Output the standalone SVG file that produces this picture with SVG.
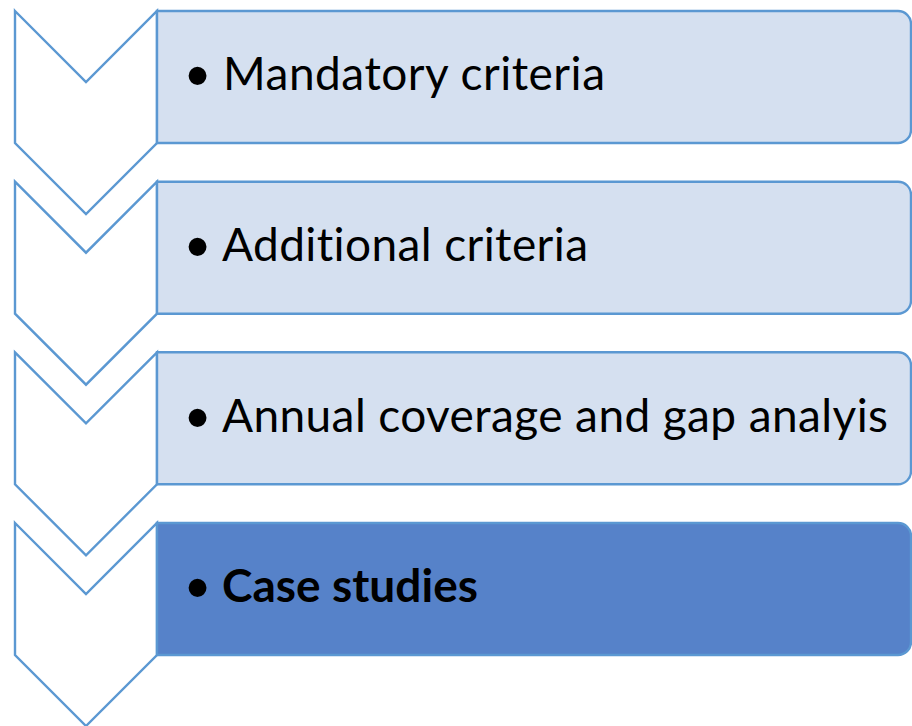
<svg xmlns="http://www.w3.org/2000/svg" width="912" height="726" viewBox="0 0 912 726">
<defs>
<style>
.chev{fill:#ffffff;stroke:#5B98D2;stroke-width:2.4;stroke-linejoin:miter}
.box{fill:#D5E0F0;stroke:#5B98D2;stroke-width:2.4}
.box.dark{fill:#5682C9}
.lbl{font-family:Lato,"Liberation Sans",Arial,sans-serif;font-size:46px;fill:#000000;font-variant-ligatures:none;font-feature-settings:"liga" 0,"clig" 0}
.bul{font-family:"Liberation Sans",Arial,sans-serif;font-size:66px}
.bold{font-weight:bold}
</style>
<path id="chevShape" d="M15,11 L86,82 L157,11 L157,143 L86,214 L15,143 Z"/>
<path id="boxShape" d="M157,11 H898 A13,13 0 0 1 911,24 V130 A13,13 0 0 1 898,143 H157 Z"/>
</defs>
<rect width="912" height="726" fill="#ffffff"/>
<g id="step1" transform="translate(0,0)">
<use href="#chevShape" class="chev"/>
<use href="#boxShape" class="box"/>
<text class="lbl" y="90"><tspan class="bul" x="186" y="98">•</tspan><tspan x="223" y="90" textLength="382">Mandatory criteria</tspan></text>
</g>
<g id="step2" transform="translate(0,170.7)">
<use href="#chevShape" class="chev"/>
<use href="#boxShape" class="box"/>
<text class="lbl" y="90.5"><tspan class="bul" x="186" y="98.5">•</tspan><tspan x="222" y="90.5" textLength="366">Additional criteria</tspan></text>
</g>
<g id="step3" transform="translate(0,341.3)">
<use href="#chevShape" class="chev"/>
<use href="#boxShape" class="box"/>
<text class="lbl" y="90.5"><tspan class="bul" x="186" y="98.5">•</tspan><tspan x="222" y="90.5" textLength="666">Annual coverage and gap analyis</tspan></text>
</g>
<g id="step4" transform="translate(0,512)">
<use href="#chevShape" class="chev"/>
<use href="#boxShape" class="box dark"/>
<text class="lbl" y="90"><tspan class="bul" x="186" y="98">•</tspan><tspan x="222" y="90" class="bold" textLength="256">Case studies</tspan></text>
</g>
<g id="connectors"></g>
</svg>
